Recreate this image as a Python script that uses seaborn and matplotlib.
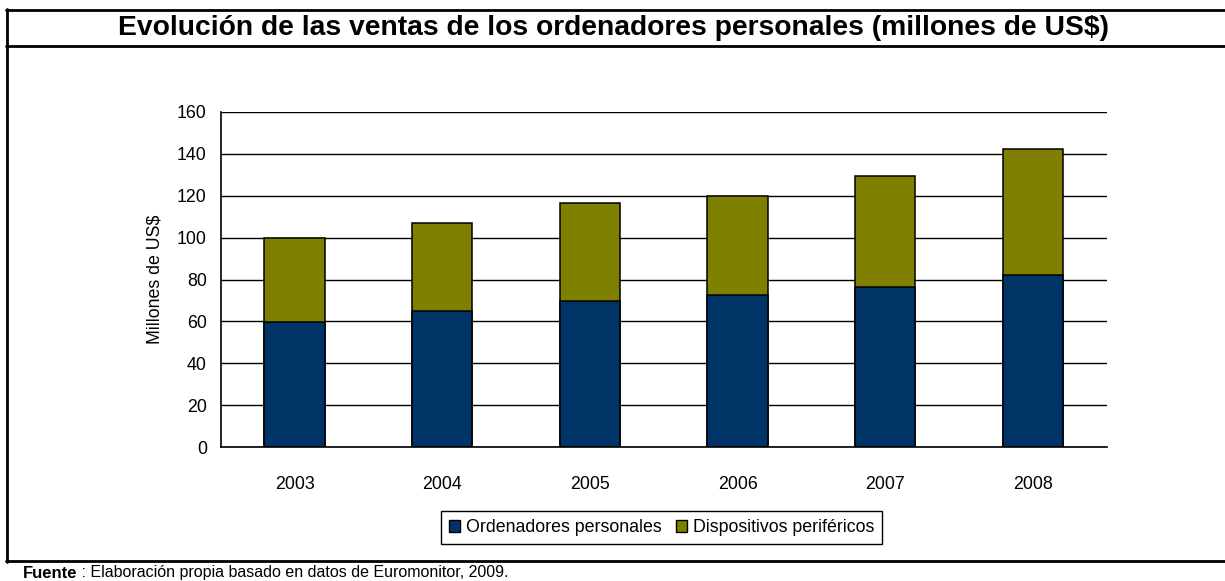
import matplotlib
matplotlib.use("Agg")
import matplotlib.pyplot as plt
from matplotlib.patches import Patch
from matplotlib.lines import Line2D
import seaborn as sns
import pandas as pd
import numpy as np

years = ["2003", "2004", "2005", "2006", "2007", "2008"]
ordenadores = [59.5, 65.0, 69.6, 72.5, 76.3, 82.0]
perifericos = [40.5, 41.8, 46.7, 47.5, 53.2, 60.1]
yticks = [0, 20, 40, 60, 80, 100, 120, 140, 160]

title = "Evolución de las ventas de los ordenadores personales (millones de US$)"
ylabel = "Millones de US$"
legend_labels = ["Ordenadores personales", "Dispositivos periféricos"]
source_bold = "Fuente"
source_rest = " : Elaboración propia basado en datos de Euromonitor, 2009."

BLUE = "#003366"
OLIVE = "#808000"

sns.set_style("white")
plt.rcParams['font.family'] = ['Liberation Sans', 'DejaVu Sans']
plt.rcParams['text.color'] = 'black'
plt.rcParams['axes.labelcolor'] = 'black'
plt.rcParams['xtick.color'] = 'black'
plt.rcParams['ytick.color'] = 'black'

df = pd.DataFrame({"year": years, "ord": ordenadores, "per": perifericos})
df["total"] = df["ord"] + df["per"]

W, H = 1225, 581
fig = plt.figure(figsize=(W / 100, H / 100), dpi=100)
ax = fig.add_axes([220.7 / W, 1 - 447.3 / H, (1106.7 - 220.7) / W, (447.3 - 111.7) / H])

sns.barplot(data=df, x="year", y="total", color=OLIVE, saturation=1, width=0.41,
            edgecolor="black", linewidth=1.1, ax=ax, zorder=3)
sns.barplot(data=df, x="year", y="ord", color=BLUE, saturation=1, width=0.41,
            edgecolor="black", linewidth=1.1, ax=ax, zorder=4)

ax.set_xlim(-0.5, 5.5)
ax.set_ylim(0, 160)
ax.set_yticks(yticks)
ax.set_yticklabels([str(v) for v in yticks], fontsize=12.8)
ax.set_xticks(range(len(years)))
ax.set_xticklabels(years, fontsize=12.8)
ax.set_xticks(np.arange(-0.5, 6.0, 1.0), minor=True)
ax.tick_params(axis="x", which="major", length=0, pad=21)
ax.tick_params(axis="x", which="minor", length=5, width=1.1, direction="out", color="black")
ax.tick_params(axis="y", which="major", length=5, width=1.1, direction="out", color="black", pad=5)
ax.set_xlabel("")
ax.set_ylabel(ylabel, fontsize=12.8, labelpad=10)

ax.yaxis.grid(True, color="black", linewidth=1.0, zorder=0)
ax.set_axisbelow(True)
for s in ["top", "right"]:
    ax.spines[s].set_visible(False)
for s in ["left", "bottom"]:
    ax.spines[s].set_color("black")
    ax.spines[s].set_linewidth(1.2)
    ax.spines[s].set_zorder(5)

handles = [Patch(facecolor=BLUE, edgecolor="black", linewidth=1.0),
           Patch(facecolor=OLIVE, edgecolor="black", linewidth=1.0)]
leg = fig.legend(handles, legend_labels, loc="center", bbox_to_anchor=(661.5 / W, 1 - 527.5 / H),
                 ncol=2, fontsize=12.8, frameon=True, fancybox=False, framealpha=1,
                 edgecolor="black", handlelength=0.65, handleheight=0.65, handletextpad=0.3,
                 columnspacing=0.8, borderpad=0.45)
leg.get_frame().set_linewidth(1.0)

# frame lines
lw = 2.0
def hline(y, x0, x1):
    fig.add_artist(Line2D([x0 / W, x1 / W], [1 - y / H, 1 - y / H], color="black", linewidth=lw,
                          transform=fig.transFigure))
def vline(x, y0, y1):
    fig.add_artist(Line2D([x / W, x / W], [1 - y0 / H, 1 - y1 / H], color="black", linewidth=lw,
                          transform=fig.transFigure))

hline(10, 6, W)
hline(46, 6, W)
hline(561, 6, W)
vline(7, 9, 562)

fig.text(613 / W, 1 - 28 / H, title, ha="center", va="center", fontsize=20.3, fontweight="bold")

fig.text(23 / W, 1 - 577.5 / H, source_bold, ha="left", va="baseline", fontsize=12.0, fontweight="bold")
fig.text(77 / W, 1 - 577.5 / H, source_rest, ha="left", va="baseline", fontsize=11.5)

fig.savefig("out.png", dpi=100)
